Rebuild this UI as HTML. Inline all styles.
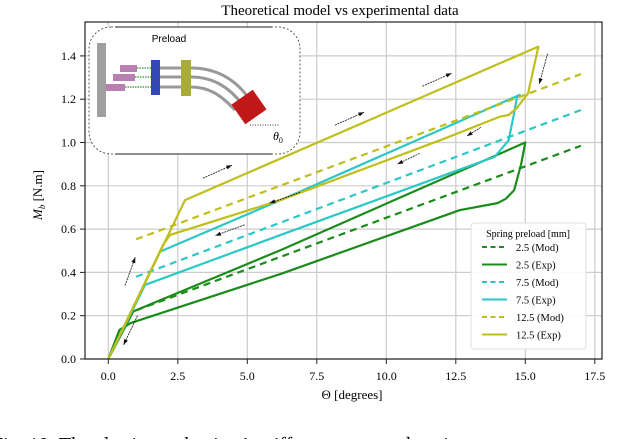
<!DOCTYPE html>
<html><head><meta charset="utf-8"><style>
body{margin:0;background:#fff;width:640px;height:439px;overflow:hidden}
svg{font-family:"Liberation Serif",serif}
</style></head><body>
<svg width="640" height="439" viewBox="0 0 640 439">
<text x="340" y="15" text-anchor="middle" font-size="15">Theoretical model vs experimental data</text>
<g id="grid"></g>
<g id="series"></g>
<g id="arrows"></g>
<rect x="85" y="22" width="517" height="337" fill="none" stroke="#222" stroke-width="1.2"/>
<g id="ticks"></g>
<text x="352" y="399" text-anchor="middle" font-size="13">Θ [degrees]</text>
<text transform="translate(42,195) rotate(-90)" text-anchor="middle" font-size="13"><tspan font-style="italic">M</tspan><tspan font-style="italic" font-size="9" dy="3">b</tspan><tspan dy="-3"> [N.m]</tspan></text>
<g>
<rect x="89" y="27" width="211" height="127" rx="22" fill="#fff" stroke="#333" stroke-dasharray="2,2" stroke-width="0.8"/>
<line x1="115" y1="154" x2="272" y2="154" stroke="#222" stroke-width="1"/>
<line x1="115" y1="27" x2="272" y2="27" stroke="#222" stroke-width="1"/>
<rect x="97" y="43" width="9" height="74" fill="#a0a0a0"/>
<rect x="120" y="65" width="17" height="7" fill="#b87fb0"/>
<rect x="113" y="74" width="22" height="7" fill="#b87fb0"/>
<rect x="106" y="84" width="19" height="7" fill="#b87fb0"/>
<g stroke="#2a9a2a" stroke-width="1.2" stroke-dasharray="1.5,1">
<line x1="137" y1="68" x2="152" y2="68"/><line x1="135" y1="77" x2="152" y2="77"/><line x1="125" y1="87" x2="152" y2="87"/></g>
<rect x="151" y="60" width="9" height="35" fill="#3347b5"/>
<g stroke="#999" stroke-width="3" fill="none">
<line x1="160" y1="68" x2="182" y2="68"/><line x1="160" y1="77" x2="182" y2="77"/><line x1="160" y1="87" x2="182" y2="87"/>
<path d="M191 68 C215 68 235 78 250 100"/><path d="M191 77 C212 77 228 86 242 104"/><path d="M191 87 C208 87 220 94 235 110"/></g>
<rect x="181" y="60" width="10" height="36" fill="#a9ab3c"/>
<rect x="236" y="95" width="26" height="24" fill="#c01818" transform="rotate(-35 249 107)"/>
<text x="169" y="42" text-anchor="middle" font-size="10" font-family="Liberation Sans,sans-serif">Preload</text>
<line x1="250" y1="125" x2="280" y2="125" stroke="#333" stroke-dasharray="1,1.5"/>
<text x="273" y="140" font-size="12" font-style="italic">θ<tspan font-size="8" dy="3" font-style="normal">0</tspan></text>
</g>
<g>
<rect x="471" y="223" width="115" height="126" rx="3" fill="#fff" fill-opacity="0.9" stroke="#ddd"/>
<text x="528" y="237" text-anchor="middle" font-size="10">Spring preload [mm]</text>
<g id="legend-items"></g>
</g>
<text x="-8" y="451" font-size="20">Fig. 10: The elastic mechanism’s stiffness compared against</text>
</svg>
<script>
const xTicks=[0,2.5,5,7.5,10,12.5,15,17.5];
const yTicks=[0,0.2,0.4,0.6,0.8,1.0,1.2,1.4];
const modX=[1,17];
const modGreen=[0.225,0.985];
const modCyan=[0.38,1.15];
const modYellow=[0.553,1.316];
const expGreenX=[0,0.9,6.2,15.0,14.85,14.6,14.3,14.0,12.65,6.2,0.8,0.4,0];
const expGreenY=[0,0.22,0.503,1.0,0.9,0.78,0.74,0.72,0.688,0.393,0.166,0.134,0];
const expCyanX=[0,1.86,6.2,14.8,14.7,14.6,14.4,13.9,6.2,1.32,0];
const expCyanY=[0,0.496,0.734,1.22,1.21,1.136,1.01,0.934,0.573,0.342,0];
const expYellowX=[0,2.76,15.47,15.1,14.7,14.4,14.1,11.93,6.2,2.22,1.97,0];
const expYellowY=[0,0.734,1.443,1.227,1.16,1.127,1.12,1.01,0.734,0.573,0.527,0];
const arrowFrom=[[0.6,0.34],[1.05,0.2],[3.4,0.835],[4.9,0.62],[8.15,1.08],[6.9,0.77],[11.3,1.26],[11.2,0.95],[13.4,1.07],[15.8,1.41]];
const arrowTo=[[0.97,0.47],[0.55,0.065],[4.45,0.895],[3.85,0.57],[9.2,1.14],[5.8,0.72],[12.35,1.32],[10.4,0.9],[12.9,1.03],[15.5,1.27]];
const legendLabels=["2.5 (Mod)","2.5 (Exp)","7.5 (Mod)","7.5 (Exp)","12.5 (Mod)","12.5 (Exp)"];
const G="#1a8c1a",C="#2cc7c7",Y="#bfbf1a";
const NS="http://www.w3.org/2000/svg";
const sx=v=>108.3+v*27.8, sy=v=>359-v*216.5;
function el(t,a,p){const e=document.createElementNS(NS,t);for(const k in a)e.setAttribute(k,a[k]);document.getElementById(p).appendChild(e);return e;}
xTicks.forEach(t=>{
 const g=el('line',{x1:sx(t),x2:sx(t),y1:22,y2:359,stroke:'#ccc','stroke-width':1.2},'grid');
 
 
 const k=el('line',{x1:sx(t),x2:sx(t),y1:359,y2:364,stroke:'#222'},'ticks');
 
 
 const l=el('text',{x:sx(t),y:380,'text-anchor':'middle','font-size':12},'ticks');
 l.textContent=t.toFixed(1);
 
 
});
yTicks.forEach(t=>{
 const g=el('line',{x1:85,x2:602,y1:sy(t),y2:sy(t),stroke:'#ccc','stroke-width':1.2},'grid');
 
 
 const k=el('line',{x1:80,x2:85,y1:sy(t),y2:sy(t),stroke:'#222'},'ticks');
 
 
 const l=el('text',{x:76,y:sy(t)+4,'text-anchor':'end','font-size':12},'ticks');
 l.textContent=t.toFixed(1);
 
 
});
function poly(xs,ys,col,dash,name){
 const pts=xs.map((x,i)=>sx(x)+','+sy(ys[i])).join(' ');
 const p=el('polyline',{points:pts,fill:'none',stroke:col,'stroke-width':2.2,'stroke-linejoin':'round','stroke-dasharray':dash?'7,5':'none'},'series');
 
 
}
poly(modX,modGreen,G,true,'model-2.5-line');
poly(expGreenX,expGreenY,G,false,'experiment-2.5-line');
poly(modX,modCyan,C,true,'model-7.5-line');
poly(expCyanX,expCyanY,C,false,'experiment-7.5-line');
poly(modX,modYellow,Y,true,'model-12.5-line');
poly(expYellowX,expYellowY,Y,false,'experiment-12.5-line');
arrowFrom.forEach((f,i)=>{
 const x1=sx(f[0]),y1=sy(f[1]),x2=sx(arrowTo[i][0]),y2=sy(arrowTo[i][1]);
 const a=Math.atan2(y2-y1,x2-x1);
 const g=el('g',{},'arrows');
 
 
 const l=document.createElementNS(NS,'line');
 l.setAttribute('x1',x1);l.setAttribute('y1',y1);l.setAttribute('x2',x2);l.setAttribute('y2',y2);
 l.setAttribute('stroke','#111');l.setAttribute('stroke-width','0.8');l.setAttribute('stroke-dasharray','2,0.8');
 g.appendChild(l);
 const h=document.createElementNS(NS,'polygon');
 const p1=[x2-6*Math.cos(a-0.35),y2-6*Math.sin(a-0.35)],p2=[x2-6*Math.cos(a+0.35),y2-6*Math.sin(a+0.35)];
 h.setAttribute('points',`${x2},${y2} ${p1} ${p2}`);h.setAttribute('fill','#111');
 g.appendChild(h);
});
const lc=[G,G,C,C,Y,Y];
legendLabels.forEach((t,i)=>{
 const y=251+i*17.5;
 const l=el('line',{x1:482,x2:507,y1:y-4,y2:y-4,stroke:lc[i],'stroke-width':2,'stroke-dasharray':i%2==0?'5,3.5':'none'},'legend-items');
 
 
 const tx=el('text',{x:516,y:y,'font-size':10.5},'legend-items');
 tx.textContent=t;
 
 
});
</script>
</body></html>
